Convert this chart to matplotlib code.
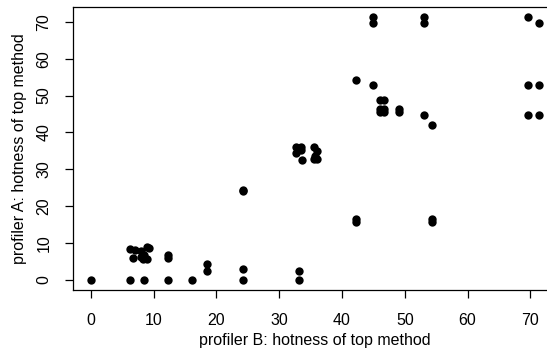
import matplotlib
matplotlib.use("Agg")
import matplotlib.pyplot as plt
import numpy as np

# hotness of the top method, profiler B (x) vs profiler A (y)
hot_b = [0.0,
         6.2, 8.5, 12.2, 16.1, 24.3, 33.2,
         18.5, 18.5, 24.3, 33.2,
         6.3, 7.0, 6.7, 7.9, 7.9, 8.4, 8.9, 9.2, 8.9, 8.3,
         12.2, 12.2,
         24.3, 24.3,
         32.6, 33.4, 32.6, 33.6, 35.5, 36.0, 35.5, 36.0, 35.7, 33.4,
         42.2, 42.2, 42.2,
         44.9, 44.9, 45.0,
         46.0, 46.7, 46.0, 46.7, 46.0, 46.7,
         49.1, 49.1,
         53.0, 53.0, 53.0,
         54.4, 54.4, 54.4,
         69.6, 71.4, 69.6, 71.4, 69.6, 71.4]
hot_a = [0.0,
         0.0, 0.0, 0.0, 0.0, 0.0, 0.0,
         2.2, 4.3, 2.9, 2.2,
         8.3, 8.0, 5.8, 7.8, 6.0, 6.6, 8.8, 8.6, 5.5, 5.7,
         6.6, 5.9,
         24.4, 24.1,
         35.9, 35.9, 34.5, 32.4, 35.9, 35.0, 32.7, 32.7, 33.6, 35.2,
         54.3, 16.4, 15.6,
         71.2, 69.6, 52.9,
         48.9, 48.9, 46.3, 46.3, 45.5, 45.5,
         46.4, 45.5,
         71.2, 69.6, 44.8,
         42.0, 16.4, 15.6,
         71.2, 69.6, 52.9, 52.9, 44.8, 44.8]

xticks = [0, 10, 20, 30, 40, 50, 60, 70]
yticks = [0, 10, 20, 30, 40, 50, 60, 70]

plt.rcParams['font.family'] = ['Liberation Sans', 'DejaVu Sans']

fig = plt.figure(figsize=(5.47, 3.54), dpi=100)
ax = fig.add_axes([73 / 547, 64 / 354, 484 / 547, 283 / 354])

ax.plot(hot_b, hot_a, 'o', color='black', markersize=6, markeredgewidth=0)

# R style axis range: data range plus 4% each side
xr = max(hot_b) - min(hot_b)
yr = max(hot_a) - min(hot_a)
ax.set_xlim(min(hot_b) - 0.04 * xr, max(hot_b) + 0.04 * xr)
ax.set_ylim(min(hot_a) - 0.04 * yr, max(hot_a) + 0.04 * yr)

ax.set_xticks(xticks)
ax.set_yticks(yticks)
ax.set_yticklabels([str(t) for t in yticks], rotation=90, va='center')
ax.tick_params(direction='out', length=5.5, width=0.9, labelsize=11.5)
ax.tick_params(axis='x', pad=11)
ax.tick_params(axis='y', pad=10)
for s in ax.spines.values():
    s.set_linewidth(0.9)

ax.set_xlabel("profiler B: hotness of top method", fontsize=11.5, labelpad=4)
ax.set_ylabel("profiler A: hotness of top method", fontsize=11.5, labelpad=7)

fig.savefig("out.png", dpi=100)
